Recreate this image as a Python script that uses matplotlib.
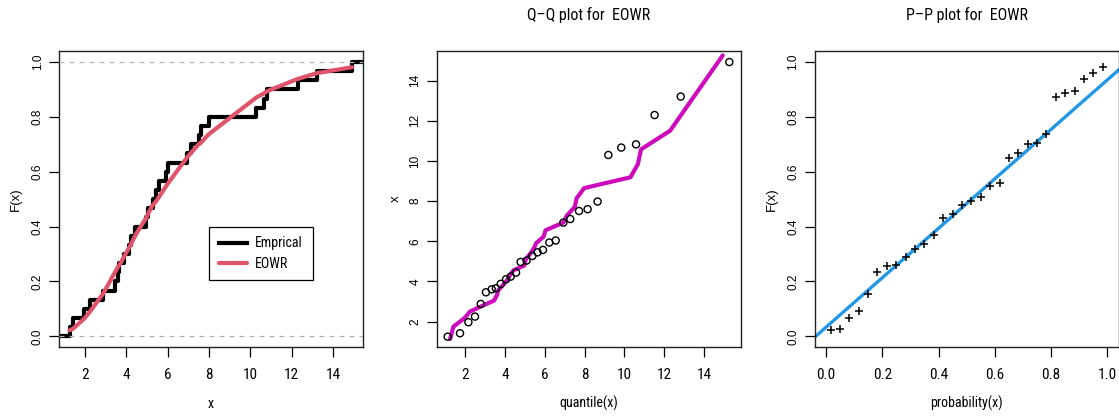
import numpy as np
import matplotlib
matplotlib.use('Agg')
import matplotlib.pyplot as plt

data = [1.25, 1.42, 1.97, 2.25, 2.88, 3.46, 3.61, 3.66, 3.88, 4.11,
        4.24, 4.44, 4.97, 5.04, 5.27, 5.45, 5.57, 5.94, 6.04, 6.93,
        7.11, 7.51, 7.60, 7.98, 10.30, 10.67, 10.83, 12.29, 13.21, 14.93]

# theoretical EOWR quantiles
quant = [1.13, 1.75, 2.17, 2.50, 2.79, 3.05, 3.34, 3.55, 3.79, 4.06,
         4.29, 4.56, 4.79, 5.09, 5.38, 5.64, 5.91, 6.23, 6.55, 6.93,
         7.28, 7.72, 8.15, 8.65, 9.19, 9.84, 10.58, 11.51, 12.82, 15.26]

# fitted CDF at the data
fitted = [0.022, 0.028, 0.065, 0.091, 0.156, 0.235, 0.255, 0.259, 0.289, 0.320,
          0.338, 0.369, 0.433, 0.445, 0.478, 0.493, 0.507, 0.549, 0.560, 0.651,
          0.667, 0.701, 0.705, 0.736, 0.871, 0.886, 0.894, 0.938, 0.959, 0.981]

# empirical probabilities
prob = [0.017, 0.050, 0.083, 0.117, 0.150, 0.183, 0.217, 0.250, 0.283, 0.317,
        0.350, 0.383, 0.417, 0.450, 0.483, 0.517, 0.550, 0.583, 0.617, 0.650,
        0.683, 0.717, 0.750, 0.783, 0.817, 0.850, 0.883, 0.917, 0.950, 0.983]

pp_intercept = 0.033
pp_slope = 0.902

NARROW = ['Roboto Condensed', 'DejaVu Sans']
SANS = ['Liberation Sans', 'DejaVu Sans']

W, H = 1119, 417
fig = plt.figure(figsize=(W / 100, H / 100), dpi=100)

box_bottom = (H - 347.3) / H
box_h = (347.3 - 51) / H
lefts = [59, 436.7, 814.7]
widths = [304.3, 304.0, 304.0]
axes = [fig.add_axes([l / W, box_bottom, w / W, box_h]) for l, w in zip(lefts, widths)]


def style(ax, xlabel, ylabel, ylab_x):
    for s in ax.spines.values():
        s.set_linewidth(1.0)
        s.set_color('#222222')
    ax.tick_params(axis='x', direction='out', length=7, width=0.9, pad=8)
    ax.tick_params(axis='y', direction='out', length=7, width=0.9, pad=4)
    for t in ax.get_xticklabels():
        t.set_family(NARROW)
        t.set_fontsize(11)
    for t in ax.get_yticklabels():
        t.set_family(SANS)
        t.set_fontsize(8.5)
        t.set_rotation(90)
        t.set_va('center')
    ax.set_xlabel(xlabel, family=NARROW, fontsize=10, va='center')
    ax.xaxis.set_label_coords(0.5, -0.19)
    ax.set_ylabel(ylabel, family=SANS, fontsize=9.5, va='center')
    ax.yaxis.set_label_coords(ylab_x, 0.5)


# panel 1: empirical vs fitted CDF
ax = axes[0]
n = len(data)
xlim1 = (0.74, 15.47)
xs = np.concatenate([[xlim1[0]], data, [xlim1[1]]])
ys = np.concatenate([[0], np.arange(1, n + 1) / n, [1]])
ax.step(xs, ys, where='post', color='black', lw=3.0, label='Emprical')
ax.plot(data, fitted, color='#DF536B', lw=3.0, solid_capstyle='round', label='EOWR')
for h in (0, 1):
    ax.axhline(h, color='#B3B3B3', lw=0.9, ls=(0, (4, 4)), zorder=5)
ax.set_xlim(*xlim1)
ax.set_ylim(-0.04, 1.04)
ax.set_xticks(range(2, 15, 2))
ax.set_yticks(np.arange(0, 1.01, 0.2))
ax.set_yticklabels(['%.1f' % v for v in np.arange(0, 1.01, 0.2)])
leg = ax.legend(loc='upper left', bbox_to_anchor=(0.494, 0.407), borderaxespad=0,
                fancybox=False, edgecolor='black', framealpha=1,
                prop={'family': NARROW, 'size': 10}, handlelength=2.0,
                borderpad=0.7, labelspacing=0.45, handletextpad=0.6)
leg.get_frame().set_linewidth(0.9)
style(ax, 'x', 'F(x)', -0.142)

# panel 2: Q-Q plot
ax = axes[1]
ax.plot(data, quant, color='#CD0BBC', lw=3.0, solid_capstyle='round')
ax.scatter(quant, data, s=26, facecolors='none', edgecolors='black', linewidths=1.0, zorder=3)
ax.set_xlim(0.58, 15.83)
ax.set_ylim(0.72, 15.48)
ax.set_xticks(range(2, 15, 2))
ax.set_yticks(range(2, 15, 2))
ax.set_title('Q\u2013Q plot for  EOWR', family=NARROW, fontsize=11.5, pad=22)
style(ax, 'quantile(x)', 'x', -0.135)

# panel 3: P-P plot
ax = axes[2]
ax.axline((0, pp_intercept), slope=pp_slope, color='#2297E6', lw=2.4)
ax.scatter(prob, fitted, marker='+', s=40, color='black', linewidths=1.1, zorder=3)
ax.set_xlim(-0.04, 1.04)
ax.set_ylim(-0.04, 1.04)
ax.set_xticks(np.arange(0, 1.01, 0.2))
ax.set_xticklabels(['%.1f' % v for v in np.arange(0, 1.01, 0.2)])
ax.set_yticks(np.arange(0, 1.01, 0.2))
ax.set_yticklabels(['%.1f' % v for v in np.arange(0, 1.01, 0.2)])
ax.set_title('P\u2013P plot for  EOWR', family=NARROW, fontsize=11.5, pad=22)
style(ax, 'probability(x)', 'F(x)', -0.141)

fig.savefig('out.png', dpi=100)
